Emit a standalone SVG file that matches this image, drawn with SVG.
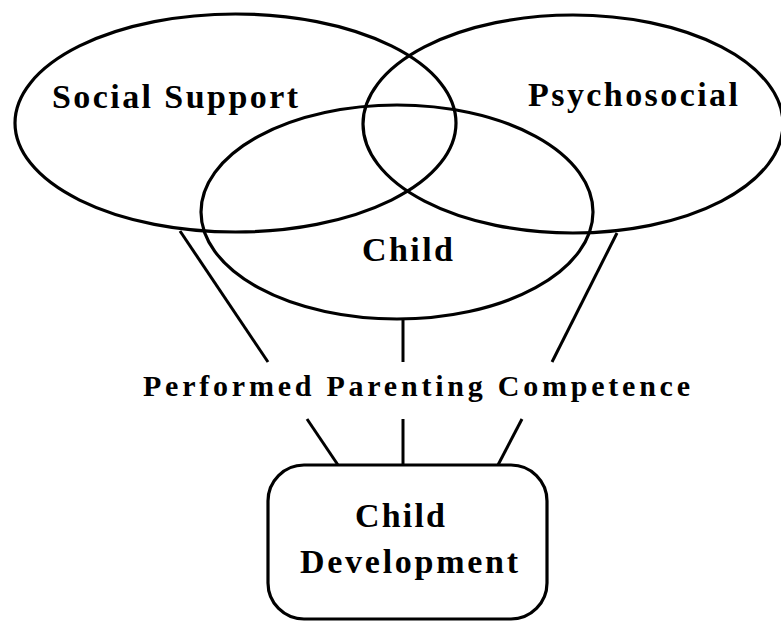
<svg xmlns="http://www.w3.org/2000/svg" width="781" height="622" viewBox="0 0 781 622">
  <style>
    .shape { fill: none; stroke: #000; stroke-width: 3.2; }
    .link { stroke: #000; stroke-width: 3; stroke-linecap: butt; fill: none; }
    .label { font-family: "Liberation Serif", "Times New Roman", serif; font-weight: bold; fill: #000; }
    .big { font-size: 34px; }
    .mid { font-size: 30px; }
  </style>
  <rect width="781" height="622" fill="#fff"/>

  <!-- connectors -->
  <g id="connectors">
    <line class="link" x1="180" y1="231" x2="268" y2="362"/>
    <line class="link" x1="403" y1="318" x2="403" y2="362"/>
    <line class="link" x1="617" y1="233" x2="552" y2="362"/>
    <line class="link" x1="307" y1="419" x2="338" y2="465"/>
    <line class="link" x1="403" y1="419" x2="403" y2="465"/>
    <line class="link" x1="522" y1="419" x2="498" y2="465"/>
  </g>

  <g id="social-support">
    <ellipse class="shape" cx="235.5" cy="123" rx="220.5" ry="109"/>
    <text class="label big" x="52" y="108" textLength="246" lengthAdjust="spacing">Social Support</text>
  </g>

  <g id="psychosocial">
    <ellipse class="shape" cx="573" cy="124" rx="210" ry="109"/>
    <text class="label big" x="528" y="106" textLength="210" lengthAdjust="spacing">Psychosocial</text>
  </g>

  <g id="child">
    <ellipse class="shape" cx="397" cy="212" rx="196" ry="107"/>
    <text class="label big" x="362" y="261" textLength="91" lengthAdjust="spacing">Child</text>
  </g>

  <g id="performed-parenting-competence">
    <text class="label mid" x="143" y="396" textLength="547" lengthAdjust="spacing">Performed Parenting Competence</text>
  </g>

  <g id="child-development">
    <rect class="shape" x="268" y="465" width="279" height="154" rx="36" ry="36"/>
    <text class="label big" x="355" y="527" textLength="90" lengthAdjust="spacing">Child</text>
    <text class="label big" x="300" y="573" textLength="218" lengthAdjust="spacing">Development</text>
  </g>
</svg>
